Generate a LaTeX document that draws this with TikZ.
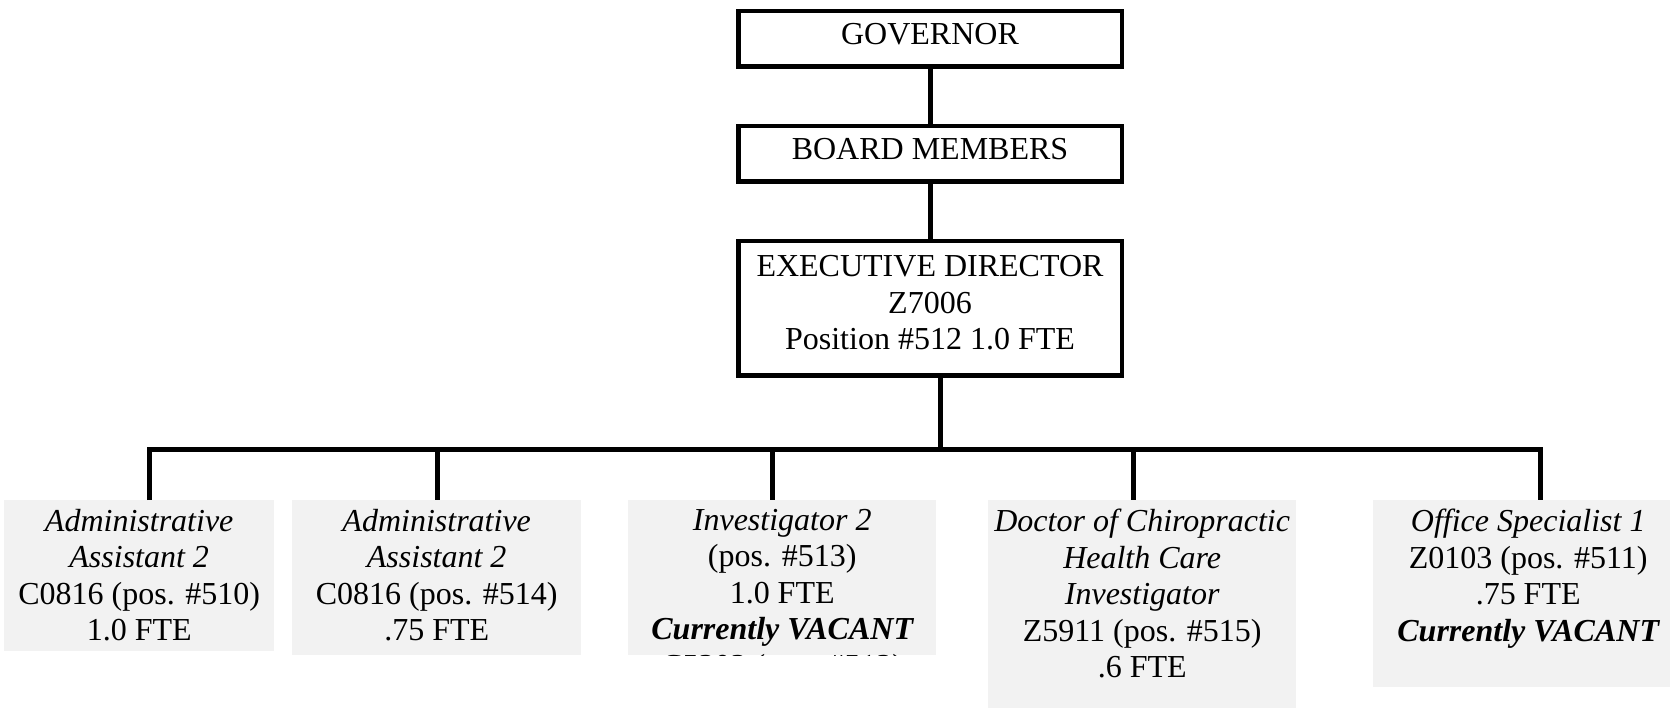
\documentclass[tikz,border=0pt]{standalone}
\usepackage{fontspec}
\setmainfont{Liberation Serif}
\usetikzlibrary{positioning}
\definecolor{boxgray}{HTML}{F2F2F2}
\tikzstyle{office}=[draw, line width=4.5pt, minimum width=383.5, align=center, font=\fontsize{32}{36.5}\selectfont]
\tikzstyle{staff}=[fill=boxgray, anchor=north west, inner sep=0]
\tikzstyle{stafftext}=[anchor=north, align=center, inner sep=0, font=\fontsize{32}{36.5}\selectfont]
\tikzstyle{link}=[line width=5pt]
\newcommand{\staffbox}[5]{
  \node[staff, minimum width=#3, minimum height=#4] (#1) at (#2, 500) {};
  \node[stafftext, below=9pt of #1.north] (#1txt) {#5};
}
\newcommand{\vacant}{{\bfseries\itshape Currently VACANT}}

\begin{document}
\begin{tikzpicture}[x=1pt, y=-1pt]
    \useasboundingbox (0,0) rectangle (1670,708);
    \node[office, minimum height=55.5, text height=21, text depth=9] (gov) at (930,39) {GOVERNOR};
    \node[office, minimum height=55.5, text height=21, text depth=9, below=55pt of gov] (board) {BOARD MEMBERS};
    \node[office, minimum height=134.5, below=55pt of board] (exec)
      {EXECUTIVE DIRECTOR\\Z7006\\Position \#512 1.0 FTE\rule[-12pt]{0pt}{12pt}};
    \draw[link] (gov) -- (board);
    \draw[link] (board) -- (exec);
    % staff positions
    \staffbox{admA}{4}{270}{151}{{\itshape Administrative}\\{\itshape Assistant 2}\\C0816 (pos. \#510)\\1.0 FTE}
    \staffbox{admB}{292}{289}{155}{{\itshape Administrative}\\{\itshape Assistant 2}\\C0816 (pos. \#514)\\.75 FTE}
    \node[staff, minimum width=308, minimum height=155] (inv) at (628, 500) {};
    \begin{scope}
      \clip (inv.south west) rectangle (inv.north east);
      \node[stafftext, below=9pt of inv.north] (invtxt)
        {{\itshape Investigator 2}\\(pos. \#513)\\1.0 FTE\\\vacant\\C5303 (pos. \#513)};
    \end{scope}
    \staffbox{doc}{988}{308}{212}{{\itshape Doctor of Chiropractic}\\{\itshape Health Care}\\{\itshape Investigator}\\Z5911 (pos. \#515)\\.6 FTE}
    \staffbox{ofs}{1373}{310}{187}{{\itshape Office Specialist 1}\\Z0103 (pos. \#511)\\.75 FTE\\\vacant}
    % branch line
    \coordinate (tap) at (940,449);
    \coordinate (dA) at (149.5,449);
    \coordinate (dB) at (437,449);
    \coordinate (dC) at (772,449);
    \coordinate (dD) at (1133,449);
    \coordinate (dE) at (1540,449);
    \draw[link] (tap |- exec.south) -- (tap);
    \draw[link] (dA |- admA.north) -- (dA) -- (dE) -- (dE |- ofs.north);
    \draw[link] (dB) -- (dB |- admB.north);
    \draw[link] (dC) -- (dC |- inv.north);
    \draw[link] (dD) -- (dD |- doc.north);
\end{tikzpicture}
\end{document}
